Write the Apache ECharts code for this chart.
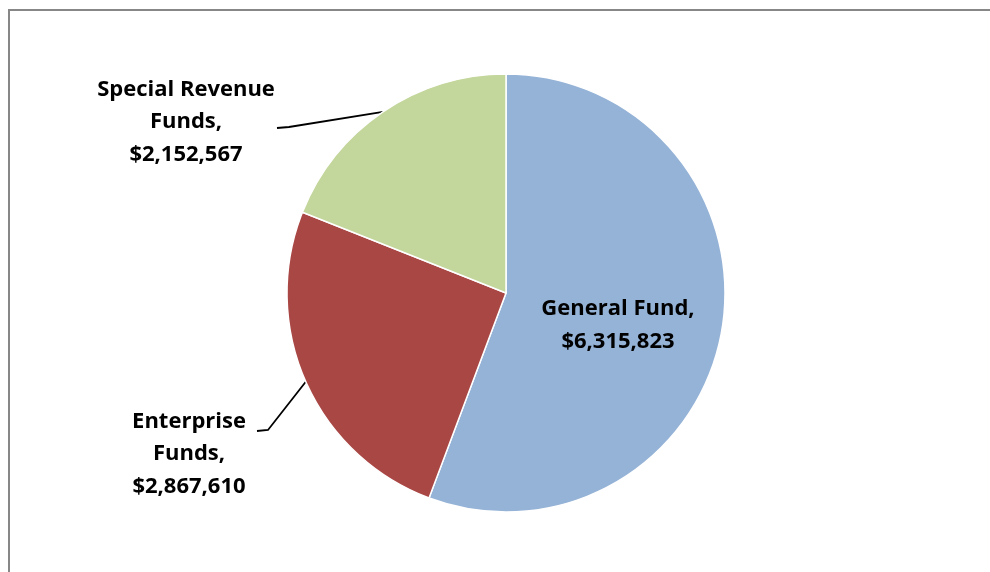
<!DOCTYPE html>
<html>
<head>
<meta charset="utf-8">
<script src="https://cdn.jsdelivr.net/npm/echarts@6/dist/echarts.min.js"></script>
<style>
html,body{margin:0;padding:0;background:#fff;}
#c{width:990px;height:572px;}
</style>
</head>
<body>
<div id="c"></div>
<script>
var categories = ['General Fund', 'Enterprise Funds', 'Special Revenue Funds'];
var values = [6315823, 2867610, 2152567];
var labelTexts = ['General Fund,\n$6,315,823', 'Enterprise\nFunds,\n$2,867,610', 'Special Revenue\nFunds,\n$2,152,567'];
var colors = ['#95B3D7', '#A94745', '#C3D69B'];

// label block centres and leader-line anchors (layout only)
var labelCenters = [[618, 325], [189, 454], [186, 122]];
var lineEnds = [null, [[268, 430], [257, 431]], [[289, 127], [277, 128]]];

var chart = echarts.init(document.getElementById('c'));
var FONT = '"Open Sans", Lato, sans-serif';

chart.setOption({
  animation: false,
  backgroundColor: '#ffffff',
  graphic: [{
    type: 'rect',
    shape: { x: 9, y: 10, width: 1100, height: 700 },
    style: { fill: 'none', stroke: '#878787', lineWidth: 2 },
    silent: true
  }],
  series: [{
    type: 'pie',
    center: [506, 293],
    radius: 219,
    startAngle: 90,
    clockwise: true,
    itemStyle: { borderColor: '#ffffff', borderWidth: 1.5 },
    label: {
      show: true,
      position: 'outside',
      color: '#000',
      fontFamily: FONT,
      fontWeight: 'bold',
      fontSize: 22,
      lineHeight: 32.5,
      align: 'center',
      formatter: function (p) { return labelTexts[p.dataIndex]; }
    },
    labelLine: {
      show: true,
      lineStyle: { color: '#000', width: 1.8 }
    },
    labelLayout: function (p) {
      var i = p.dataIndex;
      var c = labelCenters[i];
      var res = {
        x: c[0],
        y: c[1],
        align: 'center',
        verticalAlign: 'middle'
      };
      if (lineEnds[i] && p.labelLinePoints) {
        var pts = p.labelLinePoints;
        res.labelLinePoints = [pts[0], lineEnds[i][0], lineEnds[i][1]];
      }
      return res;
    },
    data: categories.map(function (name, i) {
      var item = { name: name, value: values[i], itemStyle: { color: colors[i] } };
      if (i === 0) {
        item.label = { position: 'inside' };
        item.labelLine = { show: false };
      }
      return item;
    })
  }]
});
</script>
</body>
</html>
